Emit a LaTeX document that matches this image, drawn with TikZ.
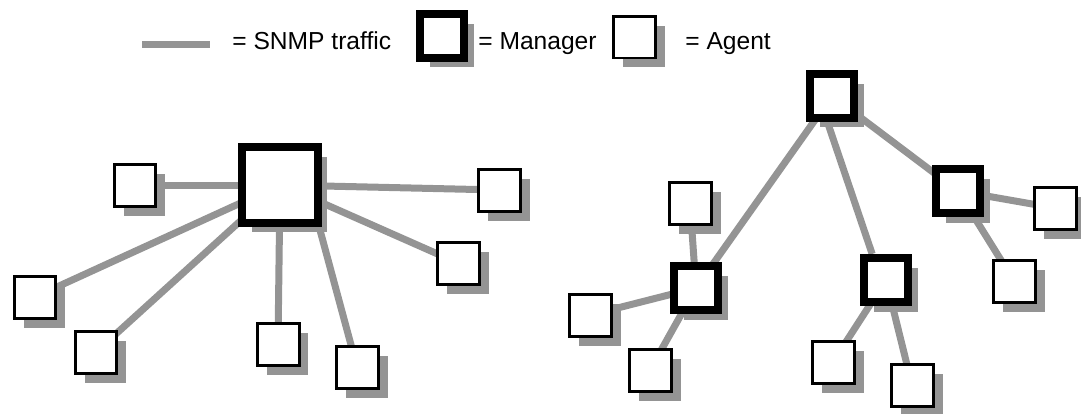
\documentclass[tikz,border=0pt]{standalone}
\usepackage{fontspec}
\setmainfont{Liberation Sans}
\usetikzlibrary{shadows, backgrounds}

\begin{document}
\begin{tikzpicture}[x=0.02cm, y=-0.02cm, font=\fontsize{14}{16}\selectfont,
    agent/.style={draw, line width=0.06cm, fill=white, minimum size=0.84cm, inner sep=0pt,
        drop shadow={shadow xshift=0.19cm, shadow yshift=-0.19cm, fill=black!42, opacity=1}},
    manager/.style={agent, line width=0.16cm, minimum size=0.88cm},
    traffic/.style={line width=0.14cm, black!42},
    legendtext/.style={anchor=base west, inner sep=0pt}]

    % --- 1. Frame ---
    \useasboundingbox (0,0) rectangle (1081,413);

    % --- 2. Legend ---
    \coordinate (lgA) at (142,44);
    \coordinate (lgB) at (210,44);
    \draw[traffic] (lgA) -- (lgB);
    \node[legendtext] (lgtraffic) at (232,49) {= SNMP traffic};
    \node[manager] (lgman) at (442,36) {};
    \node[legendtext] (lgmantext) at (478,49) {= Manager};
    \node[agent] (lgag) at (634,37) {};
    \node[legendtext] (lgagtext) at (685,49) {= Agent};

    % --- 3. Centralised: one manager, many agents ---
    \node[manager, minimum size=1.52cm] (hub) at (280,185) {};
    \node[agent] (a1) at (135,185) {};
    \node[agent] (a2) at (35,297) {};
    \node[agent] (a3) at (96,352) {};
    \node[agent] (a4) at (278,344) {};
    \node[agent] (a5) at (357,367) {};
    \node[agent] (a6) at (458,263) {};
    \node[agent] (a7) at (499,190) {};

    % --- 4. Distributed: manager of managers ---
    \node[manager] (top) at (832,96) {};
    \node[manager] (mR) at (958,191) {};
    \node[manager] (mM) at (886,280) {};
    \node[manager] (mL) at (696,288) {};
    \node[agent] (b1) at (1055,208) {};
    \node[agent] (b2) at (1014,281) {};
    \node[agent] (b3) at (833,362) {};
    \node[agent] (b4) at (912,385) {};
    \node[agent] (b5) at (690,203) {};
    \node[agent] (b6) at (590,315) {};
    \node[agent] (b7) at (650,370) {};

    % --- 5. SNMP traffic (behind the boxes) ---
    \begin{pgfonlayer}{background}
        \foreach \ag in {a1,a2,a3,a4,a7}
            \draw[traffic] (hub.center) -- (\ag.center);
        \draw[traffic] (hub.-47) -- (a5.center);
        \draw[traffic] (hub.-23) -- (a6.center);

        \draw[traffic] (top.center) -- (mL.center);
        \draw[traffic] (top.center) -- (mR.center);
        \draw[traffic] (top.-100) -- (mM.118);
        \draw[traffic] (mR.center) -- (b1.center);
        \draw[traffic] (mR.center) -- (b2.center);
        \draw[traffic] (mM.center) -- (b3.center);
        \draw[traffic] (mM.center) -- (b4.center);
        \draw[traffic] (mL.center) -- (b5.center);
        \draw[traffic] (mL.center) -- (b6.center);
        \draw[traffic] (mL.center) -- (b7.center);
    \end{pgfonlayer}

\end{tikzpicture}
\end{document}
